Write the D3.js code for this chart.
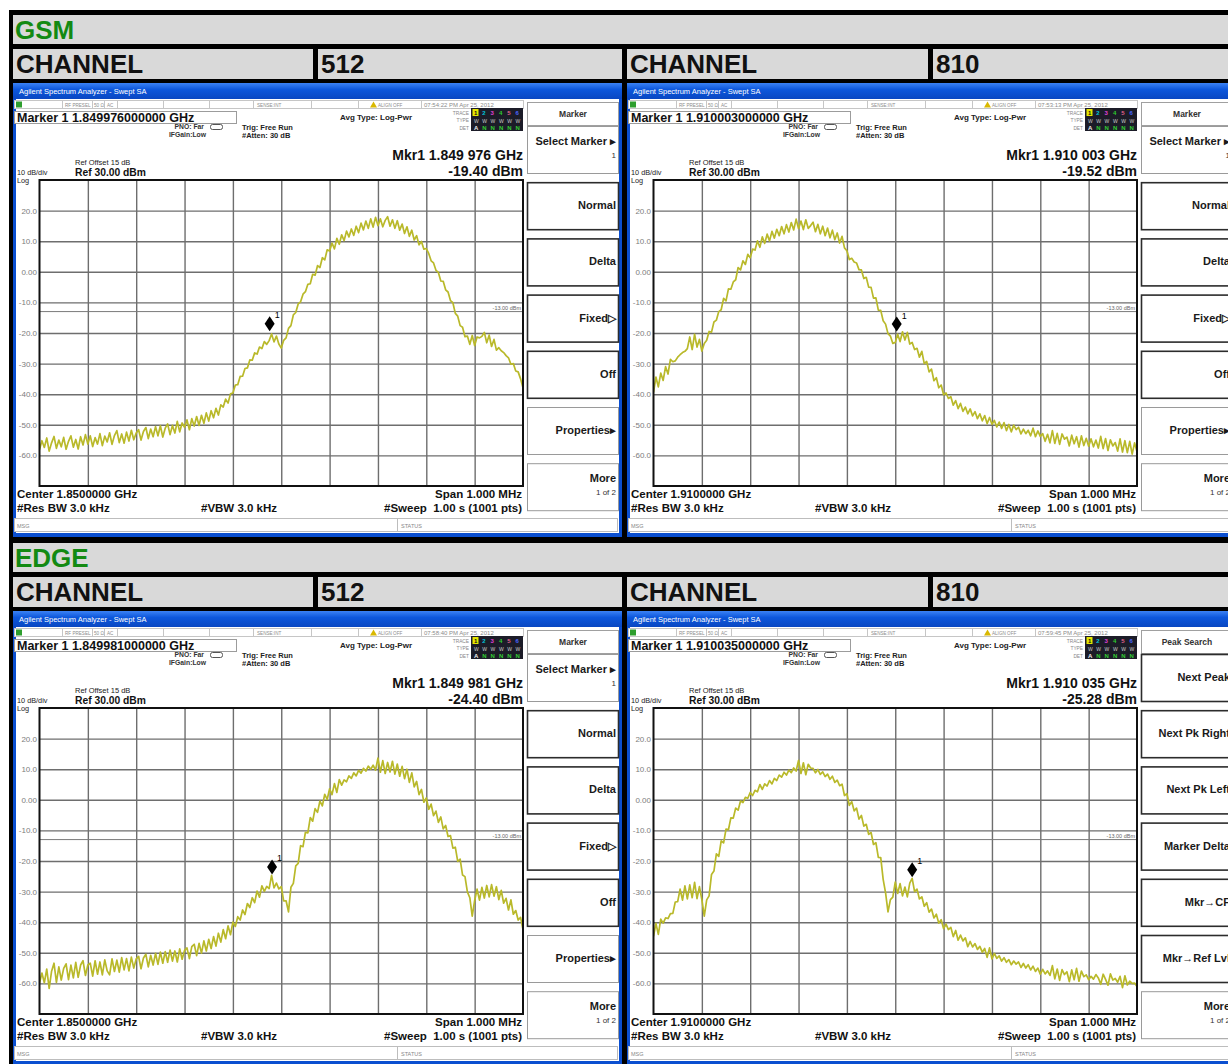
<!DOCTYPE html>
<html>
<head>
<meta charset="utf-8">
<title>GSM / EDGE spectrum plots</title>
<script src="https://cdn.jsdelivr.net/npm/d3@7"></script>
<style>
	html, body { margin: 0; padding: 0; background: #fff; }
	svg { display: block; }
</style>
</head>
<body>
<div id="chart"></div>
<script>

const PAGE_WIDTH = 1228;
const PAGE_HEIGHT = 1064;
const SECTION_OFFSET = 528;
const PANEL_WIDTH = 609;
const PANEL_HEIGHT = 454;
const PANEL_X = [13, 627];
const PANEL_Y = 83;

const REF_LEVEL = 30;
const DB_PER_DIV = 10;
const DIVISIONS = 10;
const SPAN_KHZ = 1000;

const FONT = "\"Liberation Sans\", Arial, Helvetica, sans-serif";
const TRACE_COLOR = "#b9b92a";
const GRID_COLOR = "#6e6e6e";
const CELL_GRAY = "#d9d9d9";
const LABEL_GREEN = "#138a13";

// table labels
const SECTIONS = ["GSM", "EDGE"];
const CHANNELS = ["512", "810"];
const CENTER_LABELS = ["Center 1.8500000 GHz", "Center 1.9100000 GHz"];

// per screenshot: GSM 512, GSM 810, EDGE 512, EDGE 810
const MARKER_FREQS = ["1.849976000000", "1.910003000000", "1.849981000000", "1.910035000000"];
const MARKER_READOUTS = ["1.849 976", "1.910 003", "1.849 981", "1.910 035"];
const MARKER_LEVEL_LABELS = ["-19.40", "-19.52", "-24.40", "-25.28"];
const MARKER_OFFSETS_KHZ = [-24, 3, -19, 35];
const MARKER_LEVELS = [-19.40, -19.52, -24.40, -25.28];
const TIMESTAMPS = ["07:54:22 PM Apr 25, 2012", "07:53:13 PM Apr 25, 2012", "07:58:40 PM Apr 25, 2012", "07:59:45 PM Apr 25, 2012"];
const MENUS = ["marker", "marker", "marker", "peak"];

const Y_TICK_VALUES = [20, 10, 0, -10, -20, -30, -40, -50, -60];
const Y_TICK_LABELS = ["20.0", "10.0", "0.00", "-10.0", "-20.0", "-30.0", "-40.0", "-50.0", "-60.0"];
const X_GRID_KHZ = [-400, -300, -200, -100, 0, 100, 200, 300, 400];
const DISPLAY_LINE = -13;

const MARKER_TITLE = "Marker";
const MARKER_KEYS = ["Select Marker ▸", "Normal", "Delta", "Fixed▷", "Off", "Properties▸", "More"];
const MARKER_SUBS = ["1", "", "", "", "", "", "1 of 2"];
const PEAK_TITLE = "Peak Search";
const PEAK_KEYS = ["Next Peak", "Next Pk Right", "Next Pk Left", "Marker Delta", "Mkr→CF", "Mkr→Ref Lvl", "More"];
const PEAK_SUBS = ["", "", "", "", "", "", "1 of 2"];

const STATUS_LABELS = ["RF PRESEL", "50 Ω", "AC", "SENSE:INT", "ALIGN OFF"];
const STATUS_LABEL_X = [52, 81, 94, 244, 365];
const STATUS_DIVIDERS = [49, 79, 91, 104, 150, 196, 240, 298, 345, 408];
const TRACE_COLORS = ["#e6e600", "#00c4dc", "#e040d8", "#2ecc2e", "#e0608c", "#4a66ff"];

// traces, dBm, 201 points across the 1 MHz span
const GSM_512_TRACE = [
	-58.1, -55.2, -57.4, -54.3, -58.6, -55.9, -53.8, -57.7, -55.0, -57.2, -54.1, -58.0, -55.4, -53.6, -57.3, -54.8, -57.9, -53.9, -56.6, -53.2, -56.3,
	-53.6, -57.1, -54.2, -56.3, -52.9, -56.8, -53.7, -55.6, -52.6, -56.4, -53.5, -51.9, -55.8, -53.0, -56.0, -52.4, -55.3, -51.8, -54.9, -52.7,
	-51.6, -55.0, -52.2, -50.9, -54.5, -51.4, -53.9, -50.6, -53.6, -50.3, -54.0, -51.1, -49.7, -53.2, -50.2, -52.7, -48.9, -52.3, -49.4, -50.8,
	-48.4, -51.6, -48.0, -50.4, -47.3, -50.2, -46.9, -49.5, -46.1, -48.8, -45.4, -47.7, -44.6, -46.8, -43.5, -44.2, -41.6, -42.9, -39.9, -39.6,
	-37.0, -36.9, -34.2, -34.1, -31.6, -31.4, -28.8, -28.9, -26.5, -26.9, -24.6, -25.1, -22.8, -23.7, -22.5, -20.3, -22.9, -21.0, -23.6, -24.9,
	-22.4, -21.6, -18.5, -17.6, -14.1, -13.3, -10.5, -9.8, -7.3, -6.5, -4.1, -3.9, -0.8, -1.1, 2.0, 1.4, 4.6, 3.9, 7.2, 6.8,
	9.4, 7.5, 10.9, 9.0, 12.1, 10.2, 13.3, 11.4, 14.0, 11.9, 14.9, 12.8, 15.9, 13.7, 16.6, 14.2, 17.3, 14.6, 17.8, 15.1,
	17.3, 14.7, 16.8, 18.0, 14.9, 17.0, 14.2, 16.7, 13.6, 15.6, 12.5, 14.7, 11.6, 13.6, 10.4, 11.8, 8.8, 9.9, 7.4, 7.6,
	6.0, 3.6, 2.9, 0.5, -0.2, -3.0, -3.1, -5.9, -6.6, -9.4, -10.1, -13.6, -14.5, -17.6, -18.1, -21.2, -21.0, -23.7, -20.8, -24.1,
	-21.3, -21.6, -21.1, -19.8, -23.2, -20.7, -24.4, -22.1, -25.6, -24.8, -25.8, -26.4, -27.4, -28.1, -30.2, -30.0, -32.4, -32.7, -35.0, -37.9
];

const GSM_810_TRACE = [
	-39.4, -34.4, -37.6, -33.1, -35.5, -31.0, -33.4, -28.6, -29.4, -29.1, -27.9, -27.1, -26.4, -26.0, -25.1, -21.3, -25.4, -20.4, -24.6, -22.1, -25.9,
	-23.4, -22.4, -19.5, -19.7, -16.4, -15.8, -13.0, -12.4, -8.7, -9.5, -5.6, -5.7, -3.3, -2.6, 1.4, 0.6, 3.6, 2.4, 5.7, 4.6,
	7.4, 7.1, 10.1, 8.0, 11.4, 9.3, 12.3, 10.1, 13.2, 11.0, 13.9, 11.8, 14.8, 12.4, 15.4, 13.0, 16.1, 13.7, 17.2, 14.1,
	16.6, 13.8, 17.0, 14.2, 15.1, 16.2, 13.1, 15.5, 12.4, 14.9, 11.8, 14.3, 11.1, 13.6, 10.5, 12.7, 9.4, 11.6, 7.8, 6.9,
	4.0, 4.4, 3.2, 2.9, 0.7, 0.6, -2.2, -1.8, -5.0, -5.1, -8.6, -8.5, -12.5, -12.6, -16.0, -17.1, -20.2, -21.0, -23.4, -23.1,
	-20.4, -22.8, -19.6, -22.3, -19.8, -23.6, -23.1, -25.4, -25.0, -27.9, -26.0, -30.0, -29.3, -32.7, -31.8, -35.6, -34.6, -37.9, -37.0, -40.2,
	-39.6, -41.4, -40.8, -43.6, -42.1, -44.7, -43.0, -45.6, -44.2, -46.4, -44.8, -47.1, -45.7, -48.0, -46.4, -48.7, -47.0, -49.6, -47.6, -49.8,
	-48.6, -50.7, -49.1, -51.2, -49.3, -51.9, -49.9, -52.3, -50.1, -51.6, -50.8, -53.0, -51.4, -52.9, -51.8, -53.6, -51.1, -53.9, -52.0, -53.8,
	-52.9, -55.4, -53.1, -55.9, -51.9, -56.1, -52.8, -56.4, -53.0, -54.7, -54.0, -56.9, -53.4, -56.2, -53.9, -57.3, -53.6, -56.8, -54.4, -57.0,
	-54.6, -57.2, -55.0, -57.6, -53.8, -57.8, -54.5, -58.4, -54.9, -56.9, -55.8, -58.6, -54.6, -58.9, -55.2, -59.1, -55.4, -59.6, -55.9, -58.8
];

const EDGE_512_TRACE = [
	-59.9, -56.6, -59.8, -55.3, -61.6, -56.0, -53.4, -59.7, -54.6, -58.9, -55.1, -53.6, -58.8, -54.0, -58.2, -53.1, -58.0, -54.0, -52.6, -57.4, -54.0,
	-53.4, -57.6, -52.6, -57.0, -53.0, -57.2, -52.3, -55.9, -57.2, -52.0, -56.1, -52.4, -56.3, -51.6, -55.6, -51.9, -55.9, -51.4, -55.0, -52.0,
	-51.2, -55.2, -51.7, -50.5, -54.6, -50.8, -54.0, -50.2, -53.8, -49.8, -53.4, -49.6, -53.1, -49.1, -52.7, -49.4, -53.0, -48.7, -52.1, -49.2,
	-48.4, -51.9, -48.0, -47.2, -50.9, -46.9, -50.1, -46.1, -49.4, -45.6, -48.6, -44.7, -47.8, -43.6, -46.5, -42.4, -45.4, -41.2, -44.1, -40.0,
	-41.4, -38.2, -39.3, -36.0, -37.5, -33.9, -35.2, -32.0, -33.6, -29.8, -31.8, -28.1, -29.9, -28.3, -29.0, -24.7, -28.8, -27.2, -29.1, -28.4,
	-33.0, -33.0, -36.6, -28.6, -27.3, -21.6, -20.8, -15.0, -15.3, -10.6, -10.8, -5.8, -7.0, -2.9, -4.1, -0.4, -2.0, 1.8, 0.1, 3.6,
	1.7, 5.3, 2.4, 6.6, 4.8, 6.5, 5.9, 7.8, 7.0, 8.8, 7.8, 9.6, 8.7, 10.3, 9.4, 11.0, 10.0, 11.3, 9.7, 13.6,
	9.0, 12.8, 8.6, 12.2, 9.1, 12.6, 8.4, 11.7, 7.7, 10.9, 6.9, 10.0, 5.7, 8.8, 4.2, 6.0, 1.7, 3.4, -0.8, 0.6,
	-3.1, -1.4, -5.2, -3.7, -7.4, -5.6, -9.5, -8.4, -12.0, -11.7, -15.8, -15.5, -20.1, -19.4, -24.6, -25.1, -30.1, -32.0, -38.0, -32.9,
	-29.2, -32.8, -28.6, -32.1, -28.0, -31.7, -27.7, -31.5, -28.4, -32.6, -29.6, -33.8, -32.2, -36.0, -32.7, -37.4, -36.2, -39.3, -38.4, -42.4
];

const EDGE_810_TRACE = [
	-44.6, -40.4, -44.0, -39.0, -40.3, -38.6, -38.8, -37.2, -37.1, -33.4, -33.3, -29.2, -32.8, -28.1, -32.4, -27.8, -32.0, -27.0, -32.3, -28.4, -32.6,
	-38.0, -32.7, -31.4, -24.4, -23.3, -17.7, -18.5, -13.4, -14.1, -9.6, -9.8, -5.9, -6.0, -2.7, -3.4, -0.4, -0.9, 0.8, 0.5, 2.4,
	1.4, 3.1, 2.6, 5.0, 3.4, 5.2, 4.5, 6.3, 5.2, 7.0, 6.3, 8.1, 7.4, 9.0, 8.1, 9.7, 8.9, 10.4, 9.4, 12.9,
	8.6, 12.1, 8.2, 11.6, 10.4, 10.3, 8.8, 9.9, 8.3, 9.1, 7.6, 8.4, 6.7, 7.7, 5.7, 6.4, 4.6, 5.1, 1.4, 2.0,
	-1.8, -0.6, -3.6, -2.7, -6.3, -5.1, -8.6, -8.0, -11.3, -10.7, -14.6, -14.0, -18.8, -18.9, -26.0, -30.4, -36.6, -32.6, -31.8, -26.9,
	-30.6, -27.4, -31.4, -28.5, -31.7, -27.2, -25.7, -30.0, -29.2, -32.4, -31.7, -34.8, -33.6, -36.7, -35.7, -38.6, -37.4, -40.3, -39.2, -42.1,
	-40.6, -42.4, -41.7, -44.7, -42.7, -45.9, -44.2, -46.1, -45.1, -48.0, -46.3, -48.1, -47.0, -48.9, -47.9, -49.8, -48.6, -51.5, -48.4, -52.0,
	-50.2, -51.8, -51.0, -52.7, -51.6, -53.1, -52.2, -53.9, -52.7, -53.7, -53.0, -54.8, -53.5, -55.0, -53.9, -55.6, -54.4, -56.1, -55.0, -57.0,
	-55.4, -56.9, -55.9, -57.4, -54.2, -58.5, -55.3, -59.0, -55.5, -57.1, -56.2, -59.4, -55.6, -58.8, -55.1, -59.3, -56.0, -57.8, -57.2, -58.8,
	-57.7, -58.6, -57.1, -58.2, -60.3, -57.0, -58.7, -60.6, -56.9, -58.9, -58.4, -59.6, -57.7, -61.4, -57.5, -60.5, -59.3, -60.0, -59.9, -61.0
];

const TRACES = [GSM_512_TRACE, GSM_810_TRACE, EDGE_512_TRACE, EDGE_810_TRACE];

class AnalyzerScreen {

	constructor (g, options) {

		this.g = g;
		this.options = options;

		this.plot = {
			left: 26.5,
			right: 510,
			top: 97,
			bottom: 403
		};

		this.x = d3.scaleLinear()
			.domain([-SPAN_KHZ / 2, SPAN_KHZ / 2])
			.range([this.plot.left, this.plot.right]);

		this.y = d3.scaleLinear()
			.domain([REF_LEVEL - DB_PER_DIV * DIVISIONS, REF_LEVEL])
			.range([this.plot.bottom, this.plot.top]);

		this.draw();
	}

	text (parent, x, y, str, size, opts = {}) {
		return parent.append("text")
			.attr("x", x)
			.attr("y", y)
			.attr("font-size", size)
			.attr("font-weight", opts.bold ? "bold" : "normal")
			.attr("text-anchor", opts.anchor || "start")
			.attr("fill", opts.fill || "#111")
			.text(str);
	}

	draw () {
		this.drawWindow();
		this.drawStatusBar();
		this.drawHeader();
		this.drawGraticule();
		this.drawTrace();
		this.drawMarker();
		this.drawFooter();
		this.drawSoftkeys();
	}

	drawWindow () {
		let grad = this.g.append("defs").append("linearGradient")
			.attr("id", "title-" + this.options.id)
			.attr("x1", 0).attr("y1", 0).attr("x2", 0).attr("y2", 1);
		grad.append("stop").attr("offset", "0%").attr("stop-color", "#3b82f4");
		grad.append("stop").attr("offset", "40%").attr("stop-color", "#0d57dc");
		grad.append("stop").attr("offset", "100%").attr("stop-color", "#0947c2");

		this.g.append("rect")
			.attr("width", PANEL_WIDTH)
			.attr("height", PANEL_HEIGHT)
			.attr("fill", "#0b4fd0");
		this.g.append("rect")
			.attr("width", PANEL_WIDTH)
			.attr("height", 16)
			.attr("fill", `url(#title-${this.options.id})`);
		this.g.append("rect")
			.attr("x", 3)
			.attr("y", 16)
			.attr("width", PANEL_WIDTH - 6)
			.attr("height", PANEL_HEIGHT - 20)
			.attr("fill", "#fff");

		this.text(this.g, 6, 11, "Agilent Spectrum Analyzer - Swept SA", 7.5, { fill: "#fff" });
	}

	drawStatusBar () {
		let bar = this.g.append("g");

		bar.append("rect")
			.attr("x", 1.5).attr("y", 17.5)
			.attr("width", 509).attr("height", 8)
			.attr("fill", "#fff")
			.attr("stroke", "#c6c6c6");

		STATUS_DIVIDERS.forEach(x => {
			bar.append("line")
				.attr("x1", x + 0.5).attr("x2", x + 0.5)
				.attr("y1", 18).attr("y2", 25.5)
				.attr("stroke", "#c6c6c6");
		});

		bar.append("rect")
			.attr("x", 3).attr("y", 18.5)
			.attr("width", 6).attr("height", 6)
			.attr("fill", "#2e9e2e");

		STATUS_LABELS.forEach((label, i) => {
			this.text(bar, STATUS_LABEL_X[i], 24, label, 4.6, { fill: "#8c8c8c" });
		});

		bar.append("path")
			.attr("d", "M357,24.5 L360.5,18.5 L364,24.5 Z")
			.attr("fill", "#d9b800");

		this.text(bar, 411, 24, this.options.timestamp, 6, { fill: "#8c8c8c" });
	}

	drawHeader () {
		let head = this.g.append("g");

		head.append("rect")
			.attr("x", 1.5).attr("y", 28.5)
			.attr("width", 222).attr("height", 12)
			.attr("fill", "#fff")
			.attr("stroke", "#9c9c9c");
		this.text(head, 4, 38.5, "Marker 1  " + this.options.markerFreq + " GHz", 12.5, { bold: true });

		this.text(head, 191, 46, "PNO: Far", 6.8, { bold: true, anchor: "end", fill: "#333" });
		this.text(head, 193, 53.5, "IFGain:Low", 6.8, { bold: true, anchor: "end", fill: "#333" });
		head.append("rect")
			.attr("x", 197.5).attr("y", 41.5)
			.attr("width", 12).attr("height", 5)
			.attr("rx", 2)
			.attr("fill", "none")
			.attr("stroke", "#555");
		this.text(head, 229, 47, "Trig: Free Run", 7.5, { bold: true, fill: "#222" });
		this.text(head, 229, 55, "#Atten: 30 dB", 7.5, { bold: true, fill: "#222" });

		this.text(head, 327, 37, "Avg Type: Log-Pwr", 8, { bold: true, fill: "#222" });

		["TRACE", "TYPE", "DET"].forEach((t, i) => {
			this.text(head, 456, 31.5 + i * 7.5, t, 4.8, { anchor: "end", fill: "#888" });
		});
		head.append("rect")
			.attr("x", 458).attr("y", 25)
			.attr("width", 52).attr("height", 23)
			.attr("fill", "#1c1c28");
		TRACE_COLORS.forEach((c, i) => {
			let cx = 461 + i * 8.3;
			if (i === 0) {
				head.append("rect")
					.attr("x", cx - 1.5).attr("y", 26)
					.attr("width", 6).attr("height", 7)
					.attr("fill", c);
			}
			this.text(head, cx, 32, String(i + 1), 6, { bold: true, fill: i === 0 ? "#111" : c });
			this.text(head, cx, 39.5, "W", 5, { fill: "#ccc" });
			this.text(head, cx, 46.5, i === 0 ? "A" : "N", 6, { bold: true, fill: i === 0 ? "#eee" : "#33cc33" });
		});

		this.text(head, 510, 77, "Mkr1 " + this.options.markerReadout + " GHz", 14, { bold: true, anchor: "end" });
		this.text(head, 510, 93, this.options.markerLevelLabel + " dBm", 14, { bold: true, anchor: "end" });

		this.text(head, 62, 82, "Ref Offset 15 dB", 7.5, { fill: "#222" });
		this.text(head, 62, 93, "Ref 30.00 dBm", 10.3, { bold: true });
		this.text(head, 4, 92, "10 dB/div", 7.3, { fill: "#222" });
		this.text(head, 4, 100, "Log", 7.3, { fill: "#222" });
	}

	drawGraticule () {
		let p = this.plot;
		let w = p.right - p.left;
		let h = p.bottom - p.top;
		let grid = this.g.append("g");

		grid.append("rect")
			.attr("x", p.left).attr("y", p.top)
			.attr("width", w).attr("height", h)
			.attr("fill", "#fff");

		let axisY = d3.axisLeft(this.y)
			.tickValues(Y_TICK_VALUES)
			.tickSize(-w)
			.tickPadding(2.5)
			.tickFormat((d, i) => Y_TICK_LABELS[i]);

		let axisX = d3.axisBottom(this.x)
			.tickValues(X_GRID_KHZ)
			.tickSize(-h)
			.tickFormat("");

		let gy = grid.append("g")
			.attr("transform", `translate(${p.left},0)`)
			.call(axisY);
		let gx = grid.append("g")
			.attr("transform", `translate(0,${p.bottom})`)
			.call(axisX);

		[gx, gy].forEach(a => {
			a.select(".domain").remove();
			a.selectAll(".tick line")
				.attr("stroke", GRID_COLOR)
				.attr("stroke-width", 1.4);
		});
		gy.selectAll(".tick text")
			.attr("font-family", FONT)
			.attr("font-size", 8)
			.attr("fill", "#7c7c7c");

		// display line
		grid.append("line")
			.attr("x1", p.left).attr("x2", p.right)
			.attr("y1", this.y(DISPLAY_LINE)).attr("y2", this.y(DISPLAY_LINE))
			.attr("stroke", "#7a7a7a")
			.attr("stroke-width", 1);
		this.text(grid, p.right - 2, this.y(DISPLAY_LINE) - 2, DISPLAY_LINE.toFixed(2) + " dBm", 5.5, { anchor: "end", fill: "#666" });
	}

	drawTrace () {
		let p = this.plot;
		let data = this.options.trace;
		let step = SPAN_KHZ / (data.length - 1);
		let clipId = "clip-" + this.options.id;

		this.g.append("clipPath")
			.attr("id", clipId)
			.append("rect")
			.attr("x", p.left).attr("y", p.top)
			.attr("width", p.right - p.left).attr("height", p.bottom - p.top);

		let line = d3.line()
			.x((d, i) => this.x(-SPAN_KHZ / 2 + i * step))
			.y(d => this.y(d));

		this.g.append("path")
			.datum(data)
			.attr("clip-path", `url(#${clipId})`)
			.attr("d", line)
			.attr("fill", "none")
			.attr("stroke", TRACE_COLOR)
			.attr("stroke-width", 1.7)
			.attr("stroke-linejoin", "round");

		this.g.append("rect")
			.attr("x", p.left).attr("y", p.top)
			.attr("width", p.right - p.left).attr("height", p.bottom - p.top)
			.attr("fill", "none")
			.attr("stroke", "#111")
			.attr("stroke-width", 2);
	}

	drawMarker () {
		let mx = this.x(this.options.markerOffset);
		let my = this.y(this.options.markerLevel);

		this.g.append("path")
			.attr("d", `M${mx},${my} L${mx + 5},${my - 7.5} L${mx},${my - 15} L${mx - 5},${my - 7.5} Z`)
			.attr("fill", "#000");
		this.text(this.g, mx + 5, my - 13, "1", 9, { fill: "#000" });
	}

	drawFooter () {
		let foot = this.g.append("g");

		this.text(foot, 4, 415, this.options.centerLabel, 11.5, { bold: true });
		this.text(foot, 509, 415, "Span 1.000 MHz", 11.5, { bold: true, anchor: "end" });
		this.text(foot, 4, 429, "#Res BW 3.0 kHz", 11.5, { bold: true });
		this.text(foot, 188, 429, "#VBW 3.0 kHz", 11.5, { bold: true });
		this.text(foot, 371, 429, "#Sweep", 11.5, { bold: true });
		this.text(foot, 509, 429, "1.00 s (1001 pts)", 11.5, { bold: true, anchor: "end" });

		foot.append("rect")
			.attr("x", 1.5).attr("y", 435.5)
			.attr("width", PANEL_WIDTH - 6).attr("height", 13)
			.attr("fill", "#fff")
			.attr("stroke", "#bdbdbd");
		foot.append("line")
			.attr("x1", 384.5).attr("x2", 384.5)
			.attr("y1", 436).attr("y2", 448)
			.attr("stroke", "#bdbdbd");
		this.text(foot, 4, 445, "MSG", 5.5, { fill: "#888" });
		this.text(foot, 388, 445, "STATUS", 5.5, { fill: "#888" });
	}

	drawSoftkeys () {
		let menu = this.options.menu;
		let keys = menu === "peak" ? PEAK_KEYS : MARKER_KEYS;
		let subs = menu === "peak" ? PEAK_SUBS : MARKER_SUBS;
		let title = menu === "peak" ? PEAK_TITLE : MARKER_TITLE;
		let sk = this.g.append("g");

		sk.append("rect")
			.attr("x", 514.5).attr("y", 19.5)
			.attr("width", 91).attr("height", 23)
			.attr("fill", "#fff")
			.attr("stroke", "#a0a0a0");
		this.text(sk, 560, 34, title, 8.5, { bold: true, anchor: "middle", fill: "#333" });

		keys.forEach((key, i) => {
			let top = 43 + i * 56.2;
			let strong = menu === "peak" ? i < 6 : (i >= 1 && i <= 4);
			sk.append("rect")
				.attr("x", 514.5).attr("y", top + 0.5)
				.attr("width", 91).attr("height", 47)
				.attr("fill", "#fff")
				.attr("stroke", strong ? "#2c2c2c" : "#9a9a9a")
				.attr("stroke-width", strong ? 1.6 : 1);
			if (subs[i]) {
				this.text(sk, 603, top + 19, key, 11, { bold: true, anchor: "end", fill: "#1a1a1a" });
				this.text(sk, 603, top + 32, subs[i], 8, { anchor: "end", fill: "#333" });
			} else {
				this.text(sk, 603, top + 27, key, 11, { bold: true, anchor: "end", fill: "#1a1a1a" });
			}
		});
	}
}

let svg = d3.select("#chart").append("svg")
	.attr("width", PAGE_WIDTH)
	.attr("height", PAGE_HEIGHT)
	.attr("font-family", FONT);

svg.append("rect")
	.attr("width", PAGE_WIDTH)
	.attr("height", PAGE_HEIGHT)
	.attr("fill", "#fff");

svg.append("rect")
	.attr("x", 9).attr("y", 10)
	.attr("width", PAGE_WIDTH - 9)
	.attr("height", PAGE_HEIGHT - 10)
	.attr("fill", "#000");

let channelCells = [[13, 313], [318, 622], [627, 928], [933, PAGE_WIDTH]];
let channelTexts = ["CHANNEL", CHANNELS[0], "CHANNEL", CHANNELS[1]];

SECTIONS.forEach((section, s) => {
	let top = s * SECTION_OFFSET;

	svg.append("rect")
		.attr("x", 13).attr("y", 15 + top)
		.attr("width", PAGE_WIDTH - 13).attr("height", 29)
		.attr("fill", CELL_GRAY);
	svg.append("text")
		.attr("x", 15).attr("y", 39 + top)
		.attr("font-size", 26)
		.attr("font-weight", "bold")
		.attr("fill", LABEL_GREEN)
		.text(section);

	channelCells.forEach((cell, c) => {
		svg.append("rect")
			.attr("x", cell[0]).attr("y", 49 + top)
			.attr("width", cell[1] - cell[0]).attr("height", 30)
			.attr("fill", CELL_GRAY);
		svg.append("text")
			.attr("x", cell[0] + 3).attr("y", 73 + top)
			.attr("font-size", 26)
			.attr("font-weight", "bold")
			.attr("fill", "#111")
			.text(channelTexts[c]);
	});

	PANEL_X.forEach((px, c) => {
		let idx = s * 2 + c;
		let g = svg.append("g")
			.attr("transform", `translate(${px},${PANEL_Y + top})`);
		new AnalyzerScreen(g, {
			id: idx,
			trace: TRACES[idx],
			markerFreq: MARKER_FREQS[idx],
			markerReadout: MARKER_READOUTS[idx],
			markerLevelLabel: MARKER_LEVEL_LABELS[idx],
			markerOffset: MARKER_OFFSETS_KHZ[idx],
			markerLevel: MARKER_LEVELS[idx],
			timestamp: TIMESTAMPS[idx],
			centerLabel: CENTER_LABELS[c],
			menu: MENUS[idx]
		});
	});
});

</script>
</body>
</html>
